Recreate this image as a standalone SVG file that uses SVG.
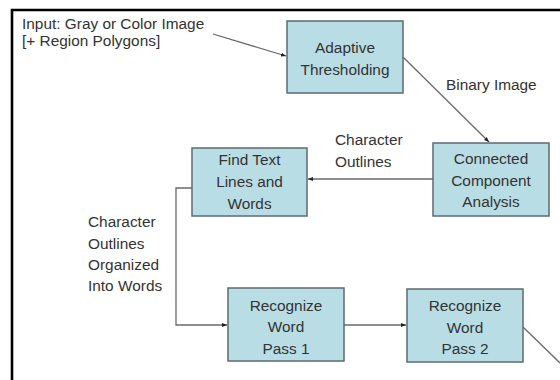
<svg xmlns="http://www.w3.org/2000/svg" width="560" height="380" viewBox="0 0 560 380">
<defs>
<style>
.box{fill:#b9dde5;stroke:#5e6b70;stroke-width:1.5}
.t{font-family:"Liberation Sans",Arial,sans-serif;font-size:15.4px;fill:#333}
.c{text-anchor:middle}
.ln{fill:none;stroke:#6a6a6a;stroke-width:1.3}
</style>
<marker id="ah" viewBox="0 0 10 10" refX="10" refY="5" markerWidth="5" markerHeight="5" orient="auto" markerUnits="userSpaceOnUse">
<path d="M0,1 L10,5 L0,9 z" fill="#222"/>
</marker>
</defs>
<rect width="560" height="380" fill="#fff"/>
<path d="M12,380 V10 H560" fill="none" stroke="#000" stroke-width="2.6"/>
<g id="connectors">
<line class="ln" x1="213" y1="34" x2="286" y2="56" marker-end="url(#ah)"/>
<line class="ln" x1="403" y1="57" x2="489" y2="142" marker-end="url(#ah)"/>
<line class="ln" x1="433" y1="179" x2="308" y2="179" marker-end="url(#ah)"/>
<polyline class="ln" points="192,188 176,188 176,325 227,325" marker-end="url(#ah)"/>
<line class="ln" x1="344" y1="325" x2="406" y2="325" marker-end="url(#ah)"/>
<line class="ln" x1="523" y1="327" x2="560" y2="363"/>
</g>
<g id="input-label">
<text class="t" x="22" y="29">Input: Gray or Color Image</text>
<text class="t" x="22" y="46">[+ Region Polygons]</text>
</g>
<g id="adaptive-thresholding">
<rect class="box" x="287" y="21" width="116" height="72"/>
<text class="t c" x="345" y="53">Adaptive</text>
<text class="t c" x="345" y="74.5">Thresholding</text>
</g>
<g id="binary-image-label">
<text class="t" x="446" y="90">Binary Image</text>
</g>
<g id="connected-component-analysis">
<rect class="box" x="433" y="143" width="116" height="73"/>
<text class="t c" x="491" y="164">Connected</text>
<text class="t c" x="491" y="185.5">Component</text>
<text class="t c" x="491" y="207">Analysis</text>
</g>
<g id="character-outlines-label">
<text class="t" x="335" y="145">Character</text>
<text class="t" x="335" y="166.5">Outlines</text>
</g>
<g id="find-text-lines">
<rect class="box" x="192" y="148" width="115" height="68"/>
<text class="t c" x="249.5" y="165">Find Text</text>
<text class="t c" x="249.5" y="187">Lines and</text>
<text class="t c" x="249.5" y="209">Words</text>
</g>
<g id="organized-label">
<text class="t" x="88" y="227">Character</text>
<text class="t" x="88" y="248.5">Outlines</text>
<text class="t" x="88" y="270">Organized</text>
<text class="t" x="88" y="291">Into Words</text>
</g>
<g id="recognize-pass-1">
<rect class="box" x="228" y="288" width="116" height="73"/>
<text class="t c" x="286" y="310.5">Recognize</text>
<text class="t c" x="286" y="332">Word</text>
<text class="t c" x="286" y="353.5">Pass 1</text>
</g>
<g id="recognize-pass-2">
<rect class="box" x="407" y="289" width="116" height="73"/>
<text class="t c" x="465" y="311">Recognize</text>
<text class="t c" x="465" y="332.5">Word</text>
<text class="t c" x="465" y="354">Pass 2</text>
</g>
</svg>
